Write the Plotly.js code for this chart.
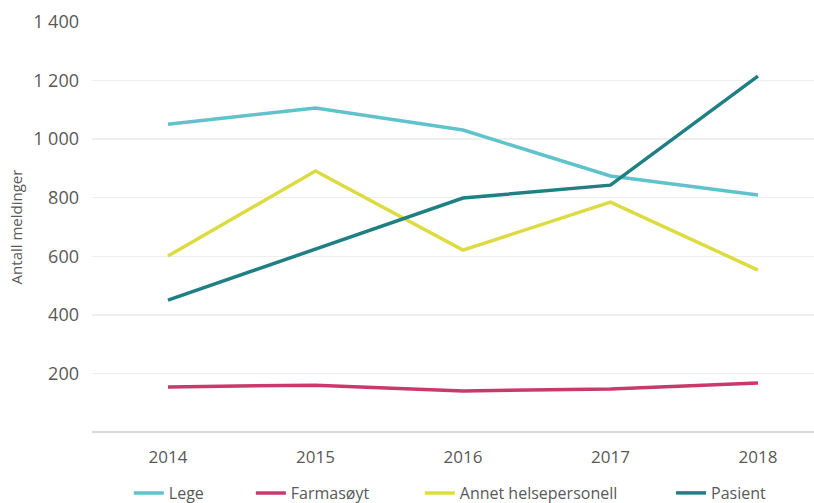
<!DOCTYPE html>
<html>
<head>
<meta charset="utf-8">
<script src="https://cdn.plot.ly/plotly-3.0.1.min.js"></script>
<style>html,body{margin:0;padding:0;background:#fff;}#chart{width:814px;height:503px;}</style>
</head>
<body>
<div id="chart"></div>
<script>
const years = ["2014", "2015", "2016", "2017", "2018"];
const lege = [1051, 1106, 1031, 874, 809];
const farmasoyt = [154, 160, 140, 147, 167];
const annet = [601, 891, 621, 785, 553];
const pasient = [450, 625, 799, 843, 1215];
const seriesNames = ["Lege", "Farmasøyt", "Annet helsepersonell", "Pasient"];
const seriesColors = ["#60c2ca", "#c93a6c", "#dcdc42", "#1f7f82"];
const yTickVals = [200, 400, 600, 800, 1000, 1200, 1400];
const yTickText = ["200", "400", "600", "800", "1 000", "1 200", "1 400"];

const allSeries = [lege, farmasoyt, annet, pasient];
const legendIds = ["legend", "legend2", "legend3", "legend4"];
const traces = allSeries.map((vals, i) => ({
  x: years, y: vals, name: seriesNames[i], type: "scatter", mode: "lines",
  line: {color: seriesColors[i], width: 3.5},
  legend: legendIds[i],
  hoverinfo: "skip"
}));

const font = "'Open Sans', 'DejaVu Sans', sans-serif";
const legendX = [0.051, 0.220, 0.454, 0.802];
const layout = {
  width: 814, height: 503,
  margin: {l: 92, r: 0, t: 22, b: 71},
  paper_bgcolor: "#ffffff", plot_bgcolor: "rgba(0,0,0,0)",
  font: {family: font, color: "#595959", size: 15},
  showlegend: true,
  xaxis: {type: "category", range: [-0.515, 4.38], showgrid: false, zeroline: false,
    showline: false, ticks: "", tickfont: {family: font, size: 17, color: "#595959"},
    ticklabelstandoff: 13, fixedrange: true},
  yaxis: {range: [0, 1400], tickvals: yTickVals, ticktext: yTickText,
    showgrid: true, gridcolor: "#eeeeee", gridwidth: 1.5,
    zeroline: true, zerolinecolor: "#d9d9d9", zerolinewidth: 1.5,
    showline: false, ticks: "", tickfont: {family: font, size: 18, color: "#595959"},
    ticklabelstandoff: 12,
    title: {text: "Antall meldinger", font: {family: font, size: 15, color: "#595959"}, standoff: 6},
    fixedrange: true}
};
legendIds.forEach((id, i) => {
  layout[id] = {orientation: "h", x: legendX[i], xanchor: "left", yref: "container", y: 10 / 503, yanchor: "middle",
    font: {family: font, size: 16, color: "#595959"}, itemwidth: 30, bgcolor: "rgba(0,0,0,0)"};
});
Plotly.newPlot("chart", traces, layout, {displayModeBar: false, staticPlot: true});
</script>
</body>
</html>
